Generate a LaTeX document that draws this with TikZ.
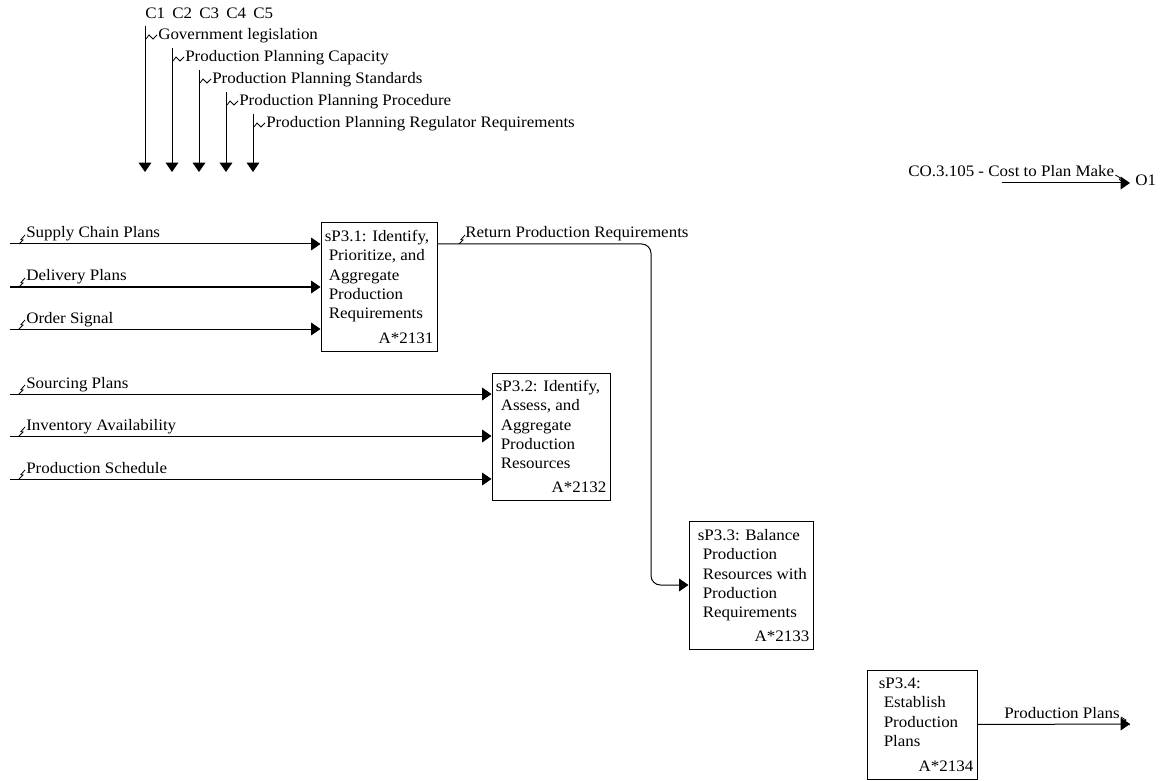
\documentclass[tikz,border=0pt]{standalone}
\usepackage{fontspec}
\setmainfont{Liberation Serif}[FakeStretch=1.06]
\usetikzlibrary{arrows.meta}

\tikzset{
    flow/.style={draw, line width=0.75pt, -{Triangle[length=7pt,width=9.5pt]}},
    procbox/.style={draw, line width=0.75pt, inner sep=0pt},
    lbl/.style={inner sep=0pt, anchor=base west, font=\fontsize{12pt}{14.5pt}\selectfont},
    boxid/.style={inner sep=0pt, anchor=base east, font=\fontsize{12pt}{14.5pt}\selectfont},
    vsquig/.pic={\draw[line width=0.6pt] (0,0) -- (4,-4) -- (2,-4.5) -- (6,-9);},
    hsquig/.pic={\draw[line width=0.6pt] (0,1) -- (3,-3) -- (7,1) -- (11,-3);},
    osquig/.pic={\draw[line width=0.6pt] (0,0) -- (5,3) -- (4,4.5) -- (9,8);}
}

\begin{document}
\begin{tikzpicture}[x=0.75pt, y=-0.75pt]
\useasboundingbox (0,0) rectangle (1161,781);

% Controls along the top
\foreach \n/\x/\t in {1/145/26, 2/172/48, 3/199/70, 4/226/92, 5/253/114} {
    \node[lbl] (clab\n) at (\x,19) {C\n};
    \coordinate (ctop\n) at (\x,\t);
    \coordinate (cend\n) at (\x,172);
    \draw[flow] (ctop\n) -- (cend\n);
}
\foreach \n/\x/\b/\t in {1/145/40/Government legislation,
                        2/172/62/Production Planning Capacity,
                        3/199/84/Production Planning Standards,
                        4/226/106/Production Planning Procedure,
                        5/253/128/Production Planning Regulator Requirements} {
    \node[lbl] (ctxt\n) at (\x+13,\b) {\t};
    \pic at (\x+1,\b-2) {hsquig};
}

% Activity boxes
\node[procbox, minimum width=87pt, minimum height=96pt] (p31) at (379,287) {};
\node[procbox, minimum width=88.5pt, minimum height=95.25pt] (p32) at (551,436.5) {};
\node[procbox, minimum width=93pt, minimum height=96pt] (p33) at (751,585) {};
\node[procbox, minimum width=82.5pt, minimum height=81.75pt] (p34) at (922,724.5) {};

% Box texts
\node[lbl] at ([shift={(4,19)}]p31.north west) {sP3.1: Identify,};
\foreach \t [count=\i from 1] in {{Prioritize, and}, Aggregate, Production, Requirements}
    \node[lbl] at ([shift={(8,19+19.3*\i)}]p31.north west) {\t};
\node[boxid] at ([shift={(-4,-8)}]p31.south east) {A*2131};

\node[lbl] at ([shift={(4,19)}]p32.north west) {sP3.2: Identify,};
\foreach \t [count=\i from 1] in {{Assess, and}, Aggregate, Production, Resources}
    \node[lbl] at ([shift={(9,19+19.3*\i)}]p32.north west) {\t};
\node[boxid] at ([shift={(-4,-8)}]p32.south east) {A*2132};

\node[lbl] at ([shift={(9,20)}]p33.north west) {sP3.3: Balance};
\foreach \t [count=\i from 1] in {Production, Resources with, Production, Requirements}
    \node[lbl] at ([shift={(14,20+19.3*\i)}]p33.north west) {\t};
\node[boxid] at ([shift={(-4,-8)}]p33.south east) {A*2133};

\node[lbl] at ([shift={(12,19)}]p34.north west) {sP3.4:};
\foreach \t [count=\i from 1] in {Establish, Production, Plans}
    \node[lbl] at ([shift={(17,19+19.3*\i)}]p34.north west) {\t};
\node[boxid] at ([shift={(-4,-8)}]p34.south east) {A*2134};

% Inputs
\foreach \n/\y/\t in {1/244/Supply Chain Plans, 2/287/Delivery Plans, 3/329/Order Signal} {
    \coordinate (in\n) at (10,\y);
    \draw[flow] (in\n) -- (in\n -| p31.west);
    \node[lbl] (inlab\n) at (26,\y-6) {\t};
    \pic at (19,\y) {vsquig};
}
\foreach \n/\y/\t in {4/394/Sourcing Plans, 5/436/Inventory Availability, 6/479/Production Schedule} {
    \coordinate (in\n) at (10,\y);
    \draw[flow] (in\n) -- (in\n -| p32.west);
    \node[lbl] (inlab\n) at (26,\y-6) {\t};
    \pic at (19,\y) {vsquig};
}

% Return Production Requirements
\coordinate (ret) at (p31.east |- in1);
\coordinate (rbend) at (651,585);
\draw[flow, rounded corners=7pt] (ret) -| (rbend) -- (p33.west);
\node[lbl] (retlab) at (465,238) {Return Production Requirements};
\pic at (459,244) {vsquig};

% Outputs
\coordinate (pp) at (1130,724);
\draw[flow] (p34.east) -- (pp);
\node[lbl] (pplab) at (1004,718) {Production Plans};
\pic at ([shift={(1,-1)}]pplab.base east) {osquig};

\coordinate (costa) at (1002,183);
\coordinate (costb) at (1130,183);
\draw[flow] (costa) -- (costb);
\node[lbl] (costlab) at (908,177) {CO.3.105 - Cost to Plan Make};
\pic at ([shift={(1,-2)}]costlab.base east) {osquig};
\node[lbl] (o1) at (1135,186) {O1};

\end{tikzpicture}
\end{document}
